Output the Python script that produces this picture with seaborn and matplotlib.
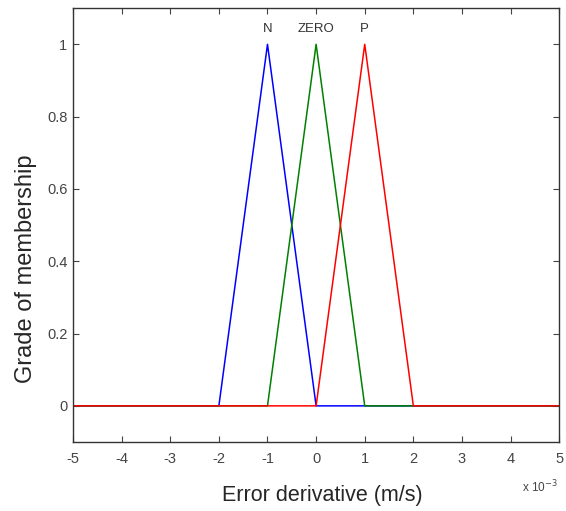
import numpy as np
import pandas as pd
import seaborn as sns
import matplotlib.pyplot as plt
from matplotlib.ticker import FuncFormatter

# membership function vertices (x in m/s)
x_n = [-5e-3, -2e-3, -1e-3, 0.0, 5e-3]
y_n = [0, 0, 1, 0, 0]
x_zero = [-5e-3, -1e-3, 0.0, 1e-3, 5e-3]
y_zero = [0, 0, 1, 0, 0]
x_p = [-5e-3, 0.0, 1e-3, 2e-3, 5e-3]
y_p = [0, 0, 1, 0, 0]

names = ["N", "ZERO", "P"]
peaks = [-1e-3, 0.0, 1e-3]
colors = ["#0000ff", "#008000", "#ff0000"]

df = pd.concat([
    pd.DataFrame({"x": x_n, "mu": y_n, "mf": "N"}),
    pd.DataFrame({"x": x_zero, "mu": y_zero, "mf": "ZERO"}),
    pd.DataFrame({"x": x_p, "mu": y_p, "mf": "P"}),
])

sns.set_style("ticks")
plt.rcParams["font.family"] = ["Liberation Sans", "DejaVu Sans"]
plt.rcParams["axes.unicode_minus"] = False

fig = plt.figure(figsize=(5.66, 5.11), dpi=100)
ax = fig.add_axes([0.129, 0.135, 0.859, 0.849])

sns.lineplot(data=df, x="x", y="mu", hue="mf", palette=dict(zip(names, colors)),
             sort=False, estimator=None, linewidth=1.1, legend=False, ax=ax)

for name, px in zip(names, peaks):
    ax.text(px, 1.043, name, ha="center", va="center", fontsize=9.5, color="#333333")

ax.set_xlim(-5e-3, 5e-3)
ax.set_ylim(-0.1, 1.1)
ax.set_xticks(np.arange(-5, 6) * 1e-3)
ax.xaxis.set_major_formatter(FuncFormatter(lambda v, p: f"{v * 1e3:.0f}"))
ax.set_yticks([0, 0.2, 0.4, 0.6, 0.8, 1])
ax.set_yticklabels(["0", "0.2", "0.4", "0.6", "0.8", "1"])

ax.tick_params(direction="in", top=True, right=True, labelsize=10.5, length=4,
               width=0.8, colors="#444444")
ax.tick_params(axis="x", pad=7)
ax.tick_params(axis="y", pad=4)
for s in ax.spines.values():
    s.set_color("#333333")
    s.set_linewidth(1.0)

ax.set_xlabel("Error derivative (m/s)", fontsize=15.5)
ax.set_ylabel("Grade of membership", fontsize=17)
ax.xaxis.set_label_coords(0.512, -0.10)
ax.yaxis.set_label_coords(-0.074, 0.40)

fig.text(540 / 566, 1 - 487 / 511, "x 10$^{-3}$", ha="center", va="center",
         fontsize=8.5, color="#444444")

fig.savefig("out.png", dpi=100)
